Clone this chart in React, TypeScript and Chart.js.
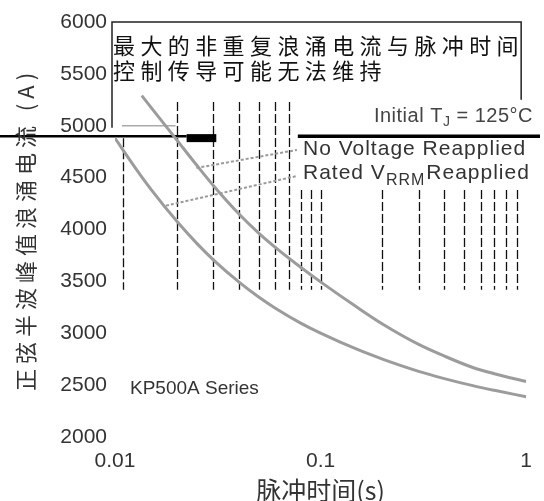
import React, { useEffect, useRef } from 'react';
import { Chart, registerables } from 'chart.js';

Chart.register(...registerables);

// ---- data ----
const timeNoVoltage = [0.0135, 0.015, 0.02, 0.025, 0.03, 0.04, 0.05, 0.06, 0.08, 0.1, 0.15, 0.2, 0.3, 0.4, 0.55, 0.7, 1.0];
const surgeNoVoltage = [5290, 5175, 4862, 4619, 4427, 4152, 3965, 3830, 3636, 3495, 3252, 3089, 2892, 2780, 2670, 2610, 2535];

const timeRated = [0.01, 0.0126, 0.015, 0.02, 0.025, 0.03, 0.04, 0.05, 0.06, 0.08, 0.1, 0.15, 0.2, 0.3, 0.4, 0.55, 0.7, 1.0];
const surgeRated = [4880, 4590, 4385, 4079, 3866, 3710, 3495, 3349, 3244, 3098, 3001, 2846, 2751, 2633, 2563, 2495, 2450, 2388];

const leaderNoVoltageTime = [0.0249, 0.0767];
const leaderNoVoltageValue = [4593, 4767];
const leaderRatedTime = [0.0177, 0.0767];
const leaderRatedValue = [4230, 4516];

const xTickValues = [0.01, 0.1, 1];
const xTickLabels = ['0.01', '0.1', '1'];
const yMin = 2000;
const yMax = 6000;
const yStep = 500;
const gridTimes = [0.02, 0.03, 0.04, 0.05, 0.06, 0.07, 0.08, 0.09, 0.1, 0.2, 0.3, 0.4, 0.5, 0.6, 0.7, 0.8, 0.9];

const titleLines = ['最大的非重复浪涌电流与脉冲时间', '控制传导可能无法维持'];
const yTitle = '正弦半波峰值浪涌电流 (A)';
const xTitle = '脉冲时间(s)';
const labelNoVoltage = 'No Voltage Reapplied';
const labelRatedMain = 'Rated V';
const labelRatedSub = 'RRM';
const labelRatedTail = 'Reapplied';
const labelInitialMain = 'Initial T';
const labelInitialSub = 'J';
const labelInitialTail = ' = 125°C';
const seriesLabel = 'KP500A Series';

const CJK = "'Noto Sans CJK SC', 'Noto Sans', sans-serif";
const SANS = "'Liberation Sans', Arial, sans-serif";

const pts = (xs: number[], ys: number[]) => xs.map((x, i) => ({ x, y: ys[i] }));

const decorPlugin = {
  id: 'decor',
  beforeDatasetsDraw(chart: any) {
    const { ctx, chartArea, scales } = chart;
    const x = scales.x;
    const y = scales.y;
    ctx.save();
    // dashed vertical grid
    ctx.strokeStyle = '#111';
    ctx.lineWidth = 1.3;
    ctx.setLineDash([9, 3]);
    for (const t of gridTimes) {
      const px = Math.round(x.getPixelForValue(t)) + 0.5;
      const topV = t < 0.075 ? 5230 : 4380;
      ctx.beginPath();
      ctx.moveTo(px, y.getPixelForValue(topV));
      ctx.lineTo(px, y.getPixelForValue(3420));
      ctx.stroke();
    }
    // left dashed edge
    ctx.beginPath();
    ctx.moveTo(chartArea.left + 8.5, y.getPixelForValue(4880));
    ctx.lineTo(chartArea.left + 8.5, y.getPixelForValue(3420));
    ctx.stroke();
    ctx.setLineDash([]);
    // frame
    ctx.strokeStyle = '#222';
    ctx.lineWidth = 1.5;
    ctx.beginPath();
    ctx.moveTo(chartArea.left - 3, y.getPixelForValue(4980));
    ctx.lineTo(chartArea.left - 3, chartArea.top);
    ctx.lineTo(chartArea.right - 5, chartArea.top);
    ctx.lineTo(chartArea.right - 5, y.getPixelForValue(5250));
    ctx.stroke();
    // gray line at 5000
    ctx.strokeStyle = '#aaa';
    ctx.lineWidth = 1.5;
    ctx.beginPath();
    ctx.moveTo(x.getPixelForValue(0.0108), y.getPixelForValue(5000));
    ctx.lineTo(x.getPixelForValue(0.0197), y.getPixelForValue(5000));
    ctx.stroke();
    // black horizontal band
    const by = y.getPixelForValue(4900);
    ctx.strokeStyle = '#000';
    ctx.lineWidth = 2.5;
    ctx.beginPath();
    ctx.moveTo(0, by);
    ctx.lineTo(x.getPixelForValue(0.0223), by);
    ctx.stroke();
    ctx.lineWidth = 8;
    ctx.beginPath();
    ctx.moveTo(x.getPixelForValue(0.0223), by + 2);
    ctx.lineTo(x.getPixelForValue(0.0311), by + 2);
    ctx.stroke();
    ctx.lineWidth = 3.5;
    ctx.beginPath();
    ctx.moveTo(x.getPixelForValue(0.0775), by);
    ctx.lineTo(chart.width - 4, by);
    ctx.stroke();
    ctx.restore();
  },
  afterDraw(chart: any) {
    const { ctx, chartArea } = chart;
    ctx.save();
    ctx.textBaseline = 'middle';
    ctx.textAlign = 'left';
    // title inside plot
    ctx.fillStyle = '#111';
    ctx.font = `22px ${CJK}`;
    ctx.letterSpacing = '5.4px';
    ctx.fillText(titleLines[0], 113, 46);
    ctx.fillText(titleLines[1], 113, 71);
    // y axis title
    ctx.save();
    ctx.translate(26, (chartArea.top + chartArea.bottom) / 2);
    ctx.rotate(-Math.PI / 2);
    ctx.textAlign = 'center';
    ctx.letterSpacing = '5px';
    ctx.fillStyle = '#333';
    ctx.font = `22px ${CJK}`;
    ctx.fillText(yTitle, 0, 0);
    ctx.restore();
    // Initial TJ
    ctx.letterSpacing = '0.5px';
    ctx.fillStyle = '#444';
    ctx.font = `20px ${SANS}`;
    const wa = ctx.measureText(labelInitialMain).width;
    const wb = ctx.measureText(labelInitialTail).width;
    ctx.font = `14px ${SANS}`;
    const ws = ctx.measureText(labelInitialSub).width;
    const start = 533 - (wa + ws + wb);
    ctx.font = `20px ${SANS}`;
    ctx.fillText(labelInitialMain, start, 116);
    ctx.fillText(labelInitialTail, start + wa + ws, 116);
    ctx.font = `14px ${SANS}`;
    ctx.fillText(labelInitialSub, start + wa, 122);
    // legend labels
    ctx.fillStyle = '#333';
    ctx.letterSpacing = '1px';
    ctx.font = `21px ${SANS}`;
    ctx.fillText(labelNoVoltage, 303, 149);
    ctx.fillText(labelRatedMain, 303, 173);
    const wr = ctx.measureText(labelRatedMain).width;
    ctx.font = `16px ${SANS}`;
    ctx.fillText(labelRatedSub, 303 + wr, 181);
    const wsub = ctx.measureText(labelRatedSub).width;
    ctx.font = `21px ${SANS}`;
    ctx.fillText(labelRatedTail, 303 + wr + wsub + 1, 173);
    // series label
    ctx.letterSpacing = '0px';
    ctx.font = `19px ${SANS}`;
    ctx.fillStyle = '#333';
    ctx.fillText(seriesLabel, 130, 389);
    ctx.restore();
  },
};

export default function App() {
  const ref = useRef<HTMLCanvasElement | null>(null);
  useEffect(() => {
    document.body.style.margin = '0';
    const canvas = ref.current;
    if (!canvas) return;
    const curveOuter = { borderColor: '#9c9c9c', borderWidth: 3, pointRadius: 0, cubicInterpolationMode: 'monotone' as const };
    const curveInner = { borderColor: '#d2f5f7', borderWidth: 1.3, pointRadius: 0, cubicInterpolationMode: 'monotone' as const };
    const leader = { borderColor: '#9a9a9a', borderWidth: 2, borderDash: [3, 2], pointRadius: 0 };
    const chart = new Chart(canvas, {
      type: 'line',
      data: {
        datasets: [
          { label: 'leaderNV', data: pts(leaderNoVoltageTime, leaderNoVoltageValue), ...leader },
          { label: 'leaderR', data: pts(leaderRatedTime, leaderRatedValue), ...leader },
          { label: 'No Voltage Reapplied', data: pts(timeNoVoltage, surgeNoVoltage), ...curveOuter },
          { label: 'No Voltage Reapplied inner', data: pts(timeNoVoltage, surgeNoVoltage), ...curveInner },
          { label: 'Rated VRRM Reapplied', data: pts(timeRated, surgeRated), ...curveOuter },
          { label: 'Rated VRRM Reapplied inner', data: pts(timeRated, surgeRated), ...curveInner },
        ],
      },
      options: {
        responsive: false,
        animation: false,
        layout: { padding: { top: 22, right: 10, left: 0, bottom: 0 } },
        plugins: { legend: { display: false }, tooltip: { enabled: false } },
        scales: {
          x: {
            type: 'logarithmic',
            min: 0.01,
            max: 1,
            afterBuildTicks: (s: any) => {
              s.ticks = xTickValues.map((v) => ({ value: v }));
            },
            afterFit: (s: any) => {
              s.height = 64;
            },
            ticks: {
              autoSkip: false,
              maxRotation: 0,
              padding: 12,
              color: '#333',
              font: { family: SANS, size: 21 },
              callback: (_v: any, i: number) => xTickLabels[i],
            },
            grid: { display: false, drawTicks: false },
            border: { display: false },
            title: {
              display: true,
              text: xTitle,
              color: '#333',
              font: { family: CJK, size: 25, lineHeight: 1 },
              padding: { top: 0, bottom: -2 },
            },
          },
          y: {
            min: yMin,
            max: yMax,
            afterFit: (s: any) => {
              s.width = 115;
            },
            ticks: {
              stepSize: yStep,
              padding: 8,
              color: '#333',
              font: { family: SANS, size: 21 },
              callback: (v: any) => String(v),
            },
            grid: { display: false, drawTicks: false },
            border: { display: false },
          },
        },
      },
      plugins: [decorPlugin],
    } as any);
    return () => chart.destroy();
  }, []);
  return (
    <div style={{ width: 544, height: 501 }}>
      <canvas ref={ref} width={544} height={501} style={{ display: 'block' }} />
    </div>
  );
}
